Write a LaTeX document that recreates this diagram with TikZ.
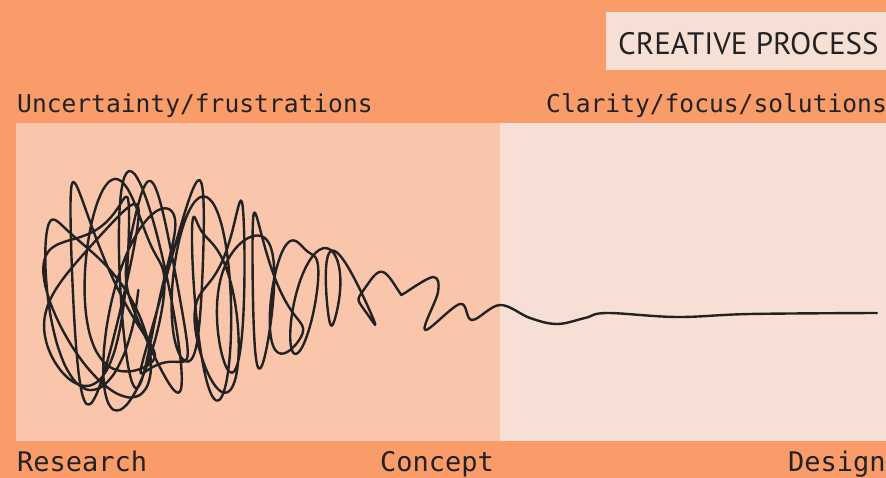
\documentclass[tikz,border=0pt]{standalone}
\usepackage{fontspec}
\usepackage{xcolor}
\usepackage{tikz}
\usetikzlibrary{positioning}
\newfontfamily\monofont{DejaVu Sans Mono}
\newfontfamily\titlefont{PT Sans}
\definecolor{backdrop}{HTML}{F99C6A}
\definecolor{messy}{HTML}{F9C6AB}
\definecolor{calm}{HTML}{F6E0D5}
\definecolor{ink}{HTML}{222222}

\begin{document}
\begin{tikzpicture}[x=1pt,y=-1pt,
  mood/.style={anchor=base west,inner sep=0pt,text=ink,font=\monofont\fontsize{24.6}{28}\selectfont},
  phase/.style={anchor=base west,inner sep=0pt,text=ink,font=\monofont\fontsize{27}{30}\selectfont},
  declare function={
    th(\s)=9400*\s-2800*\s*\s;
    env(\s)=1-\s^16;
    cx(\s)=74+241*\s+90*\s*\s;
    cy(\s)=290+3*\s;
    ax(\s)=(16+38*exp(-4*\s))*env(\s);
    by(\s)=115*exp(-(\s-0.25)*(\s-0.25)/0.4)*env(\s);
  }]
\useasboundingbox (0,0) rectangle (886,478);
\fill[backdrop] (0,0) rectangle (886,478);
\fill[messy] (16,123) rectangle (500,441);
\fill[calm] (500,123) rectangle (886,441);

% title
\node[fill=calm,minimum width=280pt,minimum height=58pt,inner sep=0pt,anchor=north west] (title) at (606,12) {};
\node[anchor=base west,inner sep=0pt,text=ink,font=\titlefont\fontsize{31}{34}\selectfont] (titletext) at (618,55) {CREATIVE PROCESS};

% moods above the panels
\node[mood] (unsure) at (17,113) {Uncertainty/frustrations};
\node[mood] (clear) at (546,113) {Clarity/focus/solutions};

% phases below the panels
\node[phase] (research) at (17,471) {Research};
\node[phase] (concept) at (380,471) {Concept};
\node[phase] (design) at (788,471) {Design};

% the scribble
\draw[ink,line width=2.4pt,line cap=round,line join=round]
  plot[smooth,domain=0:1,samples=700,variable=\s]
    ({cx(\s)+ax(\s)*(cos(th(\s))+0.25*cos(1.7*th(\s)+40))+12*(1-\s)*sin(0.23*th(\s))},
     {cy(\s)+by(\s)*(0.85*sin(th(\s)+50*sin(0.31*th(\s)))+0.2*sin(1.9*th(\s)))});
\draw[ink,line width=2.4pt,line cap=round,line join=round]
  plot[smooth,tension=0.6] coordinates {(405,293) (433,277) (438,292) (425,330) (460,304)
    (472,320) (500,305) (530,318) (557,324) (585,318) (607,313) (677,317) (750,314) (877,313)};
\end{tikzpicture}
\end{document}
